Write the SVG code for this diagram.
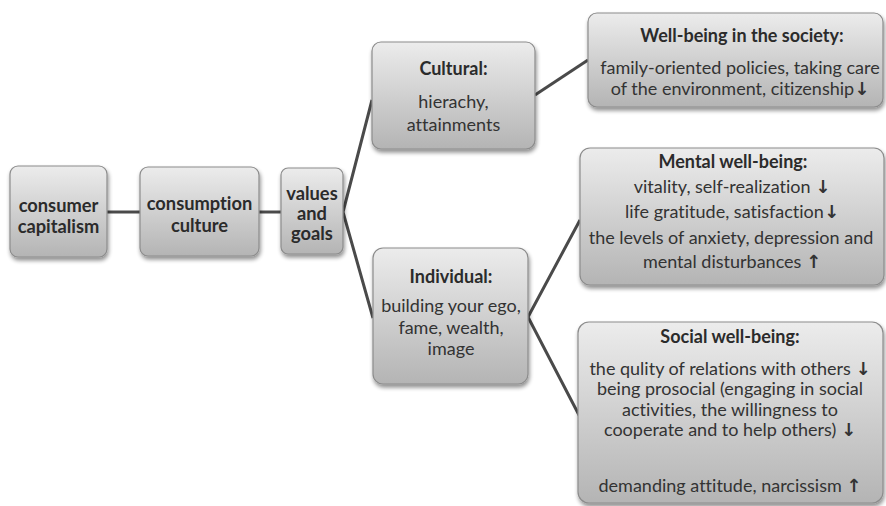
<svg xmlns="http://www.w3.org/2000/svg" width="886" height="506" viewBox="0 0 886 506">
<defs>
<linearGradient id="g" x1="0" y1="0" x2="0" y2="1">
<stop offset="0" stop-color="#ececec"/>
<stop offset="1" stop-color="#b4b4b4"/>
</linearGradient>
<filter id="sh" x="-10%" y="-10%" width="125%" height="130%">
<feGaussianBlur in="SourceAlpha" stdDeviation="2"/>
<feOffset dx="1" dy="3" result="b"/>
<feComponentTransfer><feFuncA type="linear" slope="0.45"/></feComponentTransfer>
<feMerge><feMergeNode/><feMergeNode in="SourceGraphic"/></feMerge>
</filter>
</defs>
<style>
.box{fill:url(#g);stroke:#8c8c8c;stroke-width:1.2;filter:url(#sh)}
.t{font-family:Lato,"Open Sans","Liberation Sans",sans-serif;fill:#2b2b2b;text-anchor:middle;font-variant-ligatures:none}
.b{font-weight:bold;font-size:18.3px}
.h{font-weight:bold;font-size:18px}
.r{font-size:18px;fill:#333}
.a{font-family:"DejaVu Sans",sans-serif;font-weight:bold;font-size:18px}
.c{fill:none;stroke:#4a4a4a;stroke-width:3}
</style>
<rect width="886" height="506" fill="#ffffff"/>
<g id="connectors">
<line class="c" x1="107" y1="212" x2="140" y2="212"/>
<line class="c" x1="259" y1="212" x2="281" y2="212"/>
<polyline class="c" points="372,100 343,212 373,318"/>
<line class="c" x1="535" y1="95" x2="588" y2="60"/>
<polyline class="c" points="580,220 528,317 580,417"/>
</g>
<g id="consumer-capitalism">
<rect class="box" x="10" y="166" width="97" height="91" rx="8"/>
<text class="t b" x="58.5" y="212">consumer</text>
<text class="t b" x="58.5" y="233">capitalism</text>
</g>
<g id="consumption-culture">
<rect class="box" x="140" y="167" width="119" height="89" rx="8"/>
<text class="t b" x="199.5" y="210">consumption</text>
<text class="t b" x="199.5" y="232">culture</text>
</g>
<g id="values-goals">
<rect class="box" x="281" y="168" width="62" height="86" rx="7"/>
<text class="t b" x="312" y="200">values</text>
<text class="t b" x="312" y="220">and</text>
<text class="t b" x="312" y="240">goals</text>
</g>
<g id="cultural">
<rect class="box" x="372" y="42" width="163" height="107" rx="9"/>
<text class="t h" x="453.5" y="75">Cultural:</text>
<text class="t r" x="453.5" y="108">hierachy,</text>
<text class="t r" x="453.5" y="131">attainments</text>
</g>
<g id="individual">
<rect class="box" x="373" y="248" width="155" height="136" rx="10"/>
<text class="t h" x="451" y="283">Individual:</text>
<text class="t r" x="451" y="312">building your ego,</text>
<text class="t r" x="451" y="334">fame, wealth,</text>
<text class="t r" x="451" y="355">image</text>
</g>
<g id="society">
<rect class="box" x="588" y="13" width="295" height="94" rx="9"/>
<text class="t h" x="742" y="42">Well-being in the society:</text>
<text class="t r" x="740" y="74">family-oriented policies, taking care</text>
<text class="t r" x="740" y="95">of the environment, citizenship<tspan class="a">↓</tspan></text>
</g>
<g id="mental">
<rect class="box" x="580" y="148" width="304" height="137" rx="10"/>
<text class="t h" x="733" y="168">Mental well-being:</text>
<text class="t r" x="732" y="193">vitality, self-realization <tspan class="a">↓</tspan></text>
<text class="t r" x="732" y="218">life gratitude, satisfaction<tspan class="a">↓</tspan></text>
<text class="t r" x="731" y="244">the levels of anxiety, depression and</text>
<text class="t r" x="732" y="268">mental disturbances <tspan class="a">↑</tspan></text>
</g>
<g id="social">
<rect class="box" x="578" y="322" width="305" height="181" rx="11"/>
<text class="t h" x="730" y="343">Social well-being:</text>
<text class="t r" x="730" y="375">the qulity of relations with others <tspan class="a">↓</tspan></text>
<text class="t r" x="730" y="395">being prosocial (engaging in social</text>
<text class="t r" x="730" y="416">activities, the willingness to</text>
<text class="t r" x="730" y="436">cooperate and to help others) <tspan class="a">↓</tspan></text>
<text class="t r" x="730" y="492">demanding attitude, narcissism <tspan class="a">↑</tspan></text>
</g>
</svg>
